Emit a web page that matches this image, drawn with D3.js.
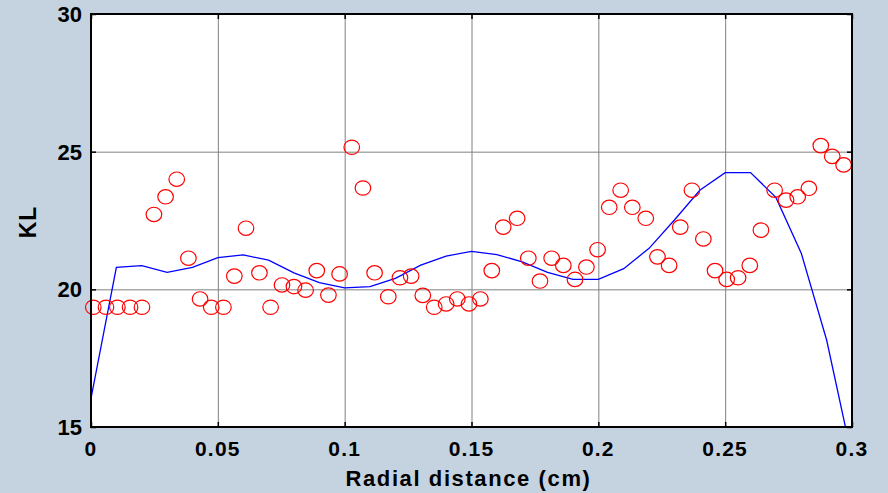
<!DOCTYPE html>
<html>
<head>
<meta charset="utf-8">
<script src="https://cdn.jsdelivr.net/npm/d3@7"></script>
<style>
  html, body { margin: 0; padding: 0; background: #c5d3e0; }
  svg { display: block; }
  text { font-family: "Liberation Sans", Arial, sans-serif; font-weight: bold; fill: #000; }
</style>
</head>
<body>
<svg id="svg" width="888" height="493"></svg>
<script>
// measured points (red circles)
const pointX = [0.0009, 0.0059, 0.0104, 0.0154, 0.0201, 0.0248, 0.0294, 0.0338, 0.0384, 0.0430,
  0.0474, 0.0522, 0.0565, 0.0611, 0.0664, 0.0708, 0.0753, 0.0800, 0.0846, 0.0890,
  0.0936, 0.0980, 0.1028, 0.1072, 0.1118, 0.1172, 0.1218, 0.1262, 0.1308, 0.1353,
  0.1400, 0.1444, 0.1490, 0.1535, 0.1580, 0.1625, 0.1680, 0.1724, 0.1770, 0.1816,
  0.1862, 0.1908, 0.1953, 0.1997, 0.2043, 0.2088, 0.2134, 0.2187, 0.2233, 0.2279,
  0.2323, 0.2369, 0.2414, 0.2460, 0.2506, 0.2551, 0.2597, 0.2641, 0.2695, 0.2740,
  0.2786, 0.2830, 0.2877, 0.2922, 0.2967];
const pointY = [19.35, 19.35, 19.35, 19.35, 19.35, 22.72, 23.36, 24.00, 21.13, 19.65,
  19.35, 19.35, 20.48, 22.22, 20.60, 19.35, 20.16, 20.10, 19.97, 20.68,
  19.79, 20.56, 25.16, 23.68, 20.60, 19.73, 20.42, 20.48, 19.78, 19.35,
  19.47, 19.65, 19.47, 19.65, 20.68, 22.26, 22.58, 21.13, 20.30, 21.13,
  20.87, 20.36, 20.81, 21.44, 22.98, 23.60, 22.98, 22.58, 21.18, 20.87,
  22.26, 23.60, 21.83, 20.68, 20.36, 20.42, 20.87, 22.15, 23.60, 23.24,
  23.36, 23.67, 25.22, 24.83, 24.52];

// fitted curve (blue line)
const lineX = [0, 0.01, 0.02, 0.03, 0.04, 0.05, 0.06, 0.07, 0.08, 0.09, 0.10,
  0.11, 0.12, 0.13, 0.14, 0.15, 0.16, 0.17, 0.18, 0.19, 0.20,
  0.21, 0.22, 0.23, 0.24, 0.25, 0.26, 0.27, 0.28, 0.29, 0.30];
const lineY = [16.04, 20.80, 20.86, 20.62, 20.80, 21.15, 21.25, 21.06, 20.60, 20.24, 20.05,
  20.10, 20.40, 20.88, 21.21, 21.38, 21.26, 21.00, 20.62, 20.36, 20.36,
  20.75, 21.49, 22.52, 23.60, 24.24, 24.24, 23.34, 21.31, 18.16, 13.90];

const xTicks = [0, 0.05, 0.1, 0.15, 0.2, 0.25, 0.3];
const yTicks = [15, 20, 25, 30];

const margin = { top: 14, right: 36, bottom: 66, left: 91 };
const width = 888 - margin.left - margin.right;
const height = 493 - margin.top - margin.bottom;

const svg = d3.select("svg");

const xScale = d3.scaleLinear().domain([0, 0.3]).range([0, width]);
const yScale = d3.scaleLinear().domain([15, 30]).range([height, 0]);

const chart = svg.append("g")
  .attr("transform", `translate(${margin.left}, ${margin.top})`);

// plot background
chart.append("rect")
  .attr("width", width)
  .attr("height", height)
  .attr("fill", "#fff");

// grid
chart.append("g")
  .attr("transform", `translate(0, ${height})`)
  .call(d3.axisBottom(xScale).tickValues(xTicks).tickSize(-height).tickFormat(""))
  .call(g => g.select(".domain").remove())
  .call(g => g.selectAll("line").attr("stroke", "#808080").attr("stroke-width", 1));
chart.append("g")
  .call(d3.axisLeft(yScale).tickValues(yTicks).tickSize(-width).tickFormat(""))
  .call(g => g.select(".domain").remove())
  .call(g => g.selectAll("line").attr("stroke", "#808080").attr("stroke-width", 1));

chart.append("clipPath").attr("id", "clip")
  .append("rect").attr("width", width).attr("height", height);

// blue line
const valueline = d3.line()
  .x((d, i) => xScale(lineX[i]))
  .y((d, i) => yScale(lineY[i]));

chart.append("path")
  .datum(lineY)
  .attr("clip-path", "url(#clip)")
  .attr("d", valueline)
  .attr("fill", "none")
  .attr("stroke", "#0000ff")
  .attr("stroke-width", 1.3);

// red circles
chart.append("g")
  .selectAll("ellipse")
  .data(pointY)
  .enter()
  .append("ellipse")
  .attr("cx", (d, i) => xScale(pointX[i]))
  .attr("cy", d => yScale(d))
  .attr("rx", 7.8)
  .attr("ry", 7.2)
  .attr("fill", "none")
  .attr("stroke", "#ff0000")
  .attr("stroke-width", 1.2);

// inward ticks on all four sides
const tickStyle = g => {
  g.select(".domain").remove();
  g.selectAll("line").attr("stroke", "#000").attr("stroke-width", 1.5);
};
chart.append("g").attr("transform", `translate(0, ${height})`)
  .call(d3.axisBottom(xScale).tickValues(xTicks).tickSize(-5).tickFormat(""))
  .call(tickStyle);
chart.append("g")
  .call(d3.axisTop(xScale).tickValues(xTicks).tickSize(-5).tickFormat(""))
  .call(tickStyle);
chart.append("g")
  .call(d3.axisLeft(yScale).tickValues(yTicks).tickSize(-5).tickFormat(""))
  .call(tickStyle);
chart.append("g").attr("transform", `translate(${width}, 0)`)
  .call(d3.axisRight(yScale).tickValues(yTicks).tickSize(-5).tickFormat(""))
  .call(tickStyle);

// box
chart.append("rect")
  .attr("width", width)
  .attr("height", height)
  .attr("fill", "none")
  .attr("stroke", "#000")
  .attr("stroke-width", 2);

// tick labels
chart.append("g")
  .selectAll("text")
  .data(xTicks)
  .enter()
  .append("text")
  .attr("x", d => xScale(d))
  .attr("y", height + 29)
  .attr("text-anchor", "middle")
  .attr("font-size", 21)
  .attr("letter-spacing", 1.2)
  .text(d => d);

chart.append("g")
  .selectAll("text")
  .data(yTicks)
  .enter()
  .append("text")
  .attr("x", -9)
  .attr("y", d => yScale(d) + 8)
  .attr("text-anchor", "end")
  .attr("font-size", 22)
  .text(d => d);

// axis titles
svg.append("text")
  .attr("x", margin.left + width / 2 - 3)
  .attr("y", 486)
  .attr("text-anchor", "middle")
  .attr("font-size", 22)
  .attr("letter-spacing", 1.6)
  .text("Radial distance (cm)");

svg.append("text")
  .attr("transform", "translate(36, 222) rotate(-90)")
  .attr("text-anchor", "middle")
  .attr("font-size", 23)
  .attr("letter-spacing", 1)
  .text("KL");
</script>
</body>
</html>
